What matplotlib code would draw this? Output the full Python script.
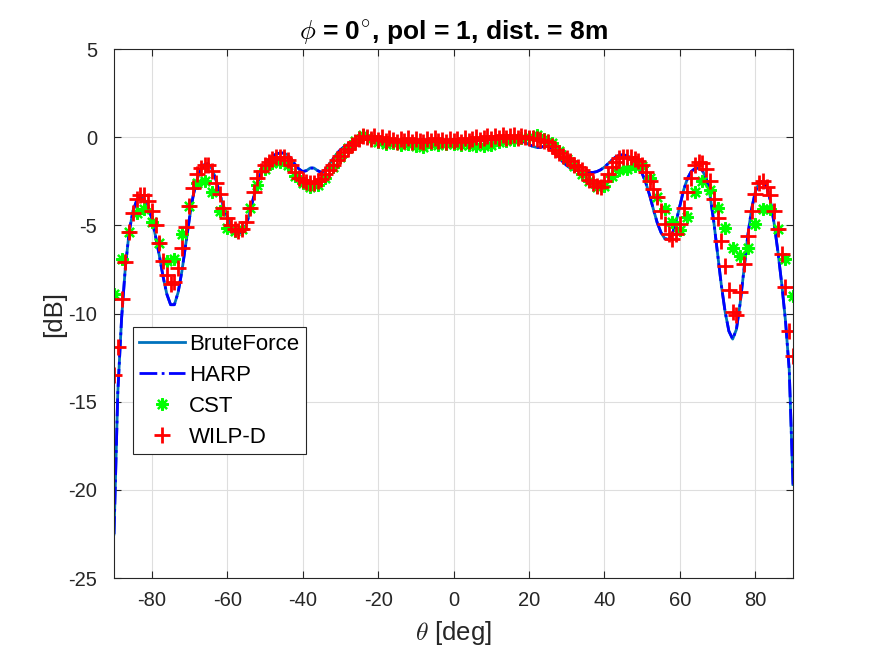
import numpy as np
import matplotlib
matplotlib.use("Agg")
import matplotlib.pyplot as plt

plt.rcParams['font.family'] = ['Liberation Sans', 'DejaVu Sans']
plt.rcParams['mathtext.fontset'] = 'cm'
plt.rcParams['axes.unicode_minus'] = False

# angle grids
theta = np.arange(-90, 91, 1)
theta_cst = np.arange(-90, 91, 2)

# BruteForce / HARP pattern [dB], 1 deg steps from -90 to 90
brute_db = [
    -22.5, -14.5, -10.3, -7.4, -5.4, -4.2, -3.6, -3.4, -3.5, -3.9,
    -4.6, -5.6, -6.7, -7.9, -8.9, -9.5, -9.5, -8.8, -7.6, -6.1,
    -4.6, -3.3, -2.4, -1.85, -1.55, -1.5, -1.8, -2.4, -3.2, -3.9,
    -4.5, -5.0, -5.3, -5.45, -5.4, -5.0, -4.3, -3.4, -2.6, -2.0,
    -1.6, -1.3, -1.1, -0.95, -0.9, -0.9, -1.0, -1.25, -1.55, -1.8,
    -1.95, -1.9, -1.75, -1.75, -1.9, -2.0, -1.85, -1.55, -1.25, -0.95,
    -0.72, -0.55, -0.42, -0.32, -0.24, -0.17, -0.12, -0.1, -0.1, -0.1,
    -0.12, -0.14, -0.16, -0.18, -0.2, -0.22, -0.23, -0.24, -0.25, -0.25,
    -0.25, -0.25, -0.24, -0.24, -0.24, -0.25, -0.25, -0.25, -0.25, -0.25,
    -0.25, -0.25, -0.24, -0.23, -0.22, -0.2, -0.19, -0.18, -0.17, -0.16,
    -0.15, -0.14, -0.13, -0.12, -0.12, -0.12, -0.13, -0.15, -0.2, -0.3,
    -0.42, -0.52, -0.58, -0.58, -0.52, -0.5, -0.62, -0.85, -1.15, -1.4,
    -1.6, -1.75, -1.85, -1.9, -1.95, -2.0, -2.0, -2.0, -1.95, -1.85,
    -1.7, -1.5, -1.3, -1.12, -1.02, -1.0, -1.05, -1.15, -1.35, -1.65,
    -2.05, -2.6, -3.3, -4.1, -4.85, -5.4, -5.75, -5.8, -5.5, -4.8,
    -3.9, -3.0, -2.35, -1.95, -1.78, -1.75, -1.9, -2.35, -3.3, -4.8,
    -6.6, -8.4, -9.9, -11.0, -11.45, -10.9, -9.4, -7.5, -5.6, -4.1,
    -3.1, -2.6, -2.5, -2.8, -3.6, -4.9, -6.5, -8.3, -10.4, -13.2,
    -19.7,
]
harp_db = list(brute_db)

# WILP-D [dB], 1 deg steps
wilp_db = [
    -13.5, -11.9, -9.2, -7.1, -5.4, -4.3, -3.5, -3.3, -3.3, -3.6,
    -4.2, -5.0, -6.0, -7.0, -7.8, -8.3, -8.2, -7.4, -6.3, -5.1,
    -3.9, -2.9, -2.1, -1.75, -1.6, -1.6, -1.9, -2.6, -3.2, -4.0,
    -4.6, -5.0, -5.2, -5.3, -5.2, -4.8, -4.0, -3.1, -2.3, -1.9,
    -1.6, -1.4, -1.25, -1.15, -1.1, -1.1, -1.3, -1.6, -2.0, -2.3,
    -2.45, -2.55, -2.6, -2.6, -2.5, -2.35, -2.1, -1.85, -1.55, -1.3,
    -1.05, -0.85, -0.65, -0.45, -0.25, -0.1, 0.05, 0.0, -0.1, 0.05,
    -0.15, 0.0, -0.2, -0.05, -0.15, -0.25, -0.1, -0.2, -0.05, -0.25,
    -0.1, -0.2, -0.3, -0.1, -0.2, -0.05, -0.2, -0.15, -0.3, -0.1,
    -0.2, -0.1, -0.25, -0.05, -0.2, -0.1, 0.0, -0.15, -0.05, 0.05,
    -0.1, 0.05, -0.05, 0.1, -0.05, 0.05, 0.1, -0.05, 0.05, 0.0,
    -0.05, -0.05, -0.1, -0.15, -0.2, -0.3, -0.5, -0.7, -0.9, -1.05,
    -1.2, -1.35, -1.55, -1.7, -1.85, -2.1, -2.4, -2.6, -2.75, -2.8,
    -2.5, -2.1, -1.7, -1.4, -1.2, -1.15, -1.1, -1.15, -1.25, -1.35,
    -1.6, -2.0, -2.5, -2.95, -3.4, -4.2, -4.9, -5.5, -5.8, -5.5,
    -4.9, -4.0, -3.1, -2.3, -1.6, -1.4, -1.45, -1.8, -2.5, -3.5,
    -4.6, -5.9, -7.3, -8.65, -9.9, -10.1, -8.8, -7.2, -5.6, -4.2,
    -3.2, -2.6, -2.5, -2.8, -3.3, -4.2, -5.2, -6.6, -8.5, -11.0,
    -12.4,
]

# CST [dB], 2 deg steps
cst_db = [
    -8.9, -6.9, -5.4, -4.3, -4.1, -4.8, -6.0, -7.0, -6.9, -5.5,
    -3.9, -2.6, -2.5, -3.1, -4.2, -5.15, -5.3, -5.2, -4.0, -2.7,
    -1.8, -1.45, -1.4, -1.6, -2.2, -2.6, -2.8, -2.7, -2.3, -1.7,
    -1.1, -0.6, -0.2, 0.15, -0.1, -0.3, -0.4, -0.35, -0.45, -0.4,
    -0.5, -0.55, -0.4, -0.45, -0.4, -0.4, -0.45, -0.45, -0.5, -0.5,
    -0.45, -0.3, -0.2, -0.15, -0.05, 0.0, 0.1, -0.1, -0.35, -0.8,
    -1.25, -1.65, -2.1, -2.5, -2.8, -2.75, -2.2, -1.85, -1.8, -1.65,
    -1.65, -2.3, -3.4, -4.1, -4.8, -5.25, -4.5, -3.1, -2.5, -3.0,
    -4.0, -5.15, -6.3, -6.75, -6.3, -4.9, -4.1, -4.1, -5.2, -6.9,
    -9.0,
]

axc = '#262626'
fig = plt.figure(figsize=(8.75, 6.57), dpi=100)
ax = fig.add_axes([0.1303, 0.1202, 0.776, 0.8052])

ax.plot(theta, brute_db, '-', color='#0072BD', lw=2, label='BruteForce')
ax.plot(theta, harp_db, '-.', color='b', lw=2, label='HARP')
ax.plot(theta_cst, cst_db, ls='none', marker=(8, 2, 0), ms=9, mew=1.6,
        color=(0, 1, 0), label='CST')
ax.plot(theta, wilp_db, ls='none', marker='+', ms=11, mew=2,
        color=(1, 0, 0), label='WILP-D')

ax.set_xlim(-90, 90)
ax.set_ylim(-25, 5)
ax.set_xticks(np.arange(-80, 81, 20))
ax.set_yticks(np.arange(-25, 6, 5))
ax.grid(True, color='#dedede', lw=0.8)
ax.set_axisbelow(True)
for s in ax.spines.values():
    s.set_color(axc)
    s.set_linewidth(0.8)
ax.tick_params(direction='in', length=5, width=0.8, colors=axc,
               labelsize=14.5, top=True, right=True)
ax.tick_params(axis='x', pad=9)
ax.tick_params(axis='y', pad=12)

ax.set_title(r'$\phi$ = 0$^{\circ}$, pol = 1, dist. = 8m', fontsize=19,
             fontweight='bold', pad=7)
ax.set_xlabel(r'$\theta$ [deg]', fontsize=18.5, color=axc, labelpad=7)
ax.set_ylabel('[dB]', fontsize=18.5, color=axc, labelpad=2)

leg = ax.legend(loc='lower left', bbox_to_anchor=(0.0275, 0.234),
                borderaxespad=0, fontsize=16, fancybox=False, framealpha=1,
                handlelength=2.05, handletextpad=0.2, labelspacing=0.45,
                borderpad=0.3)
leg.get_frame().set_edgecolor(axc)
leg.get_frame().set_linewidth(0.8)

fig.savefig('out.png', dpi=100)
